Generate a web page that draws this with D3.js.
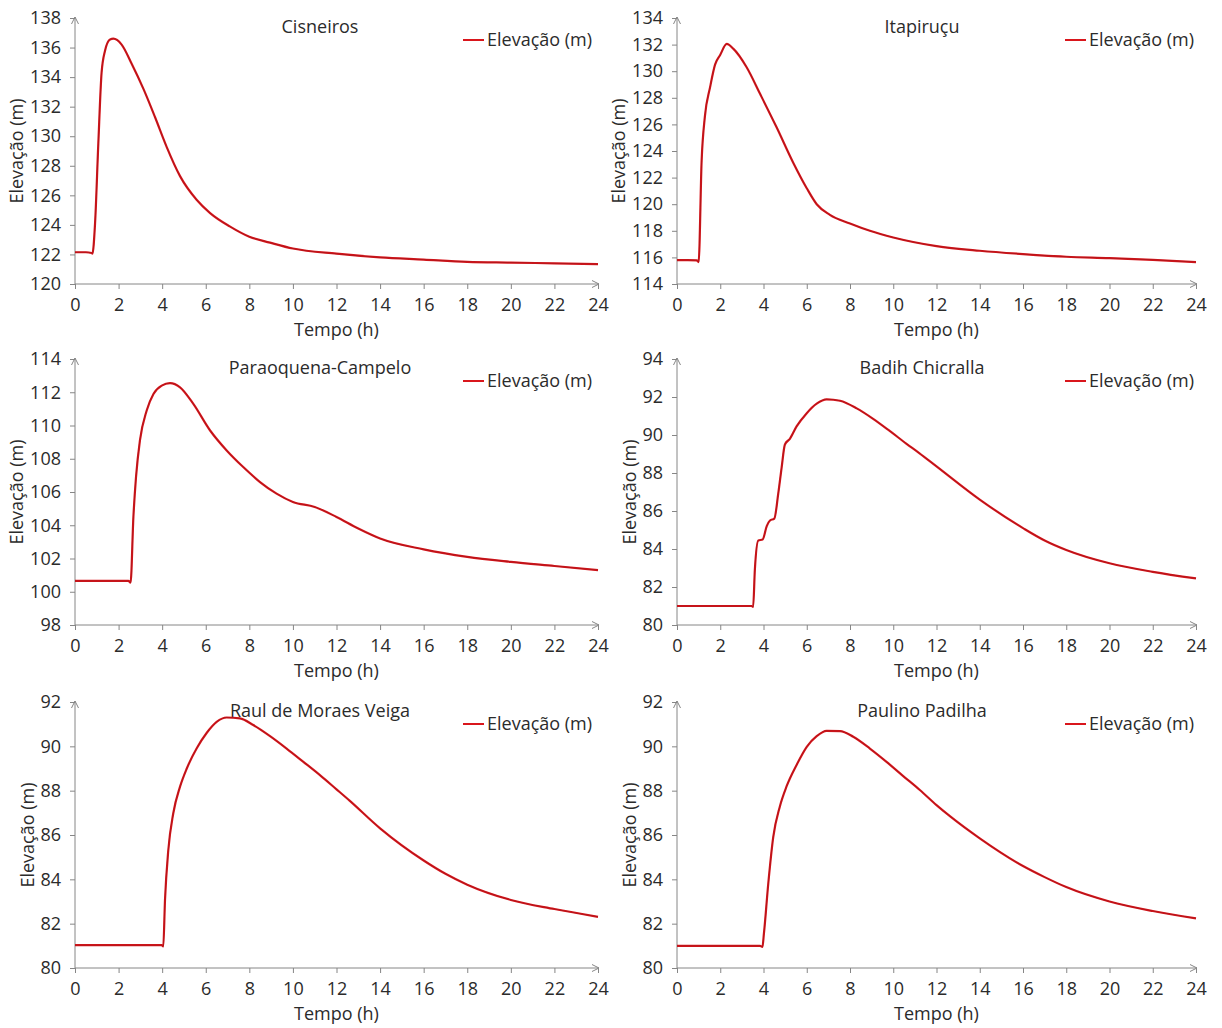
<!DOCTYPE html>
<html>
<head>
<meta charset="utf-8">
<script src="https://cdn.jsdelivr.net/npm/d3@7"></script>
<style>
  html, body { margin: 0; padding: 0; background: #fff; }
  svg text { font-family: "Open Sans", "Noto Sans", sans-serif; }
</style>
</head>
<body>
<svg id="chart" width="1222" height="1028"></svg>
<script>
// Elevation hydrographs (elevação vs. tempo) for six stations, 0–24 h.

const stationNames = [
  "Cisneiros", "Itapiruçu",
  "Paraoquena-Campelo", "Badih Chicralla",
  "Raul de Moraes Veiga", "Paulino Padilha"
];

const yDomains = [[120, 138], [114, 134], [98, 114], [80, 94], [80, 92], [80, 92]];
const xTicks = d3.range(0, 25, 2);

// time (h) and elevation (m) samples for each station
const cisneirosT = [0, 0.5, 0.76, 0.8, 0.92, 1.07, 1.22, 1.38, 1.61, 1.76, 2.14, 2.6, 3.14, 3.67, 4.2, 4.82, 5.58, 6.2, 7.1, 8.0, 8.95, 10, 12, 14, 16, 18, 20, 22, 24];
const cisneirosZ = [122.15, 122.15, 122.1, 122.05, 124.1, 129.5, 134.3, 135.8, 136.55, 136.6, 136.2, 134.9, 133.2, 131.3, 129.3, 127.3, 125.7, 124.8, 123.9, 123.2, 122.8, 122.4, 122.05, 121.8, 121.65, 121.5, 121.45, 121.4, 121.35];

const itapirucuT = [0, 0.5, 0.91, 1.0, 1.14, 1.29, 1.53, 1.76, 1.99, 2.3, 2.6, 3.22, 3.84, 4.6, 5.38, 6.0, 6.46, 7.07, 8.0, 8.92, 10, 12, 14, 16, 18, 20, 22, 24];
const itapirucuZ = [115.8, 115.8, 115.78, 115.65, 123.3, 126.6, 128.8, 130.5, 131.2, 132.05, 131.7, 130.3, 128.3, 125.8, 123.1, 121.2, 120.0, 119.2, 118.55, 118.0, 117.5, 116.85, 116.5, 116.25, 116.05, 115.95, 115.82, 115.65];

const paraoquenaT = [0, 1, 2.45, 2.55, 2.68, 2.8, 2.98, 3.29, 3.6, 3.98, 4.36, 4.82, 5.43, 6.2, 6.96, 7.72, 8.49, 9.25, 10.0, 11, 12, 13, 14, 16, 18, 20, 22, 24];
const paraoquenaZ = [100.65, 100.65, 100.65, 100.55, 104.5, 106.9, 109.1, 110.9, 111.9, 112.4, 112.55, 112.3, 111.3, 109.7, 108.5, 107.5, 106.6, 105.9, 105.4, 105.1, 104.5, 103.8, 103.2, 102.55, 102.1, 101.8, 101.55, 101.3];

const badihT = [0, 2, 3.45, 3.52, 3.6, 3.76, 3.96, 4.15, 4.3, 4.5, 4.68, 4.84, 4.99, 5.22, 5.53, 6.0, 6.46, 6.92, 7.54, 8.31, 9.07, 9.85, 10.6, 11.2, 12, 14, 16, 17, 18, 20, 22, 24];
const badihZ = [81.0, 81.0, 81.0, 80.95, 82.9, 84.45, 84.5, 85.2, 85.5, 85.6, 86.9, 88.3, 89.5, 89.8, 90.45, 91.15, 91.65, 91.88, 91.8, 91.4, 90.85, 90.2, 89.55, 89.05, 88.35, 86.6, 85.1, 84.45, 83.95, 83.25, 82.8, 82.45];

const raulT = [0, 2, 3.98, 4.05, 4.13, 4.28, 4.51, 4.82, 5.13, 5.58, 6.04, 6.5, 6.96, 7.57, 8.18, 8.95, 9.71, 10.48, 11.24, 12.0, 12.6, 14, 16, 17, 18, 20, 22, 24];
const raulZ = [81.03, 81.03, 81.03, 80.97, 83.07, 85.3, 86.98, 88.18, 89.0, 89.9, 90.6, 91.1, 91.3, 91.26, 90.96, 90.46, 89.9, 89.3, 88.7, 88.06, 87.55, 86.3, 84.85, 84.25, 83.76, 83.07, 82.66, 82.31];

const paulinoT = [0, 2, 3.84, 3.95, 4.02, 4.22, 4.45, 4.76, 5.07, 5.53, 6.0, 6.46, 6.92, 7.54, 8.15, 8.92, 9.69, 10.46, 11.23, 12.0, 12.62, 14, 16, 17, 18, 20, 22, 24];
const paulinoZ = [81.0, 81.0, 81.0, 80.95, 81.56, 83.8, 85.9, 87.3, 88.2, 89.16, 89.98, 90.46, 90.7, 90.69, 90.43, 89.9, 89.3, 88.66, 88.03, 87.35, 86.85, 85.85, 84.6, 84.1, 83.65, 83.0, 82.57, 82.24];

const seriesT = [cisneirosT, itapirucuT, paraoquenaT, badihT, raulT, paulinoT];
const seriesZ = [cisneirosZ, itapirucuZ, paraoquenaZ, badihZ, raulZ, paulinoZ];

const legendLabel = "Elevação (m)";
const xTitle = "Tempo (h)";
const yTitle = "Elevação (m)";

// grid geometry
const colLeft = [75, 677];
const colRight = [598, 1196];
const rowTop = [18, 359, 702];
const rowBottom = [284, 625, 968];

const FONT = 18;
const AXIS = "#868686";
const TEXT = "#2b2b2b";
const LINE = "#d9161c";

const svg = d3.select("#chart");

function arrowHead(g, x, y, dir) {
  // open chevron arrowhead at the end of an axis line
  const L = 7, W = 3.5;
  let pts;
  if (dir === "up") pts = [[x - W, y + L], [x, y], [x + W, y + L]];
  else pts = [[x - L, y - W], [x, y], [x - L, y + W]];
  g.append("polyline")
    .attr("points", pts.map(p => p.join(",")).join(" "))
    .attr("fill", "none").attr("stroke", AXIS).attr("stroke-width", 1);
}

stationNames.forEach((name, i) => {
  const col = i % 2, row = Math.floor(i / 2);
  const left = colLeft[col], right = colRight[col];
  const top = rowTop[row], bottom = rowBottom[row];

  const x = d3.scaleLinear().domain([0, 24]).range([left, right]);
  const y = d3.scaleLinear().domain(yDomains[i]).range([bottom, top]);
  const yTicks = d3.range(yDomains[i][0], yDomains[i][1] + 0.001, 2);

  const g = svg.append("g");

  // y axis
  const gy = g.append("g")
    .attr("transform", `translate(${left},0)`)
    .call(d3.axisLeft(y).tickValues(yTicks).tickSize(5).tickSizeOuter(0).tickPadding(9));
  // x axis
  const gx = g.append("g")
    .attr("transform", `translate(0,${bottom})`)
    .call(d3.axisBottom(x).tickValues(xTicks).tickSize(5).tickSizeOuter(0).tickPadding(9));

  [gx, gy].forEach(a => {
    a.select(".domain").remove();
    a.selectAll(".tick line").attr("stroke", AXIS);
    a.selectAll(".tick text").attr("fill", TEXT).style("font-size", FONT + "px");
  });

  g.append("line").attr("x1", left).attr("x2", left).attr("y1", bottom).attr("y2", top - 1)
    .attr("stroke", AXIS).attr("stroke-width", 1);
  g.append("line").attr("x1", left).attr("x2", right + 1).attr("y1", bottom).attr("y2", bottom)
    .attr("stroke", AXIS).attr("stroke-width", 1);
  arrowHead(g, left, top - 1, "up");
  arrowHead(g, right + 1, bottom, "right");

  // axis titles
  g.append("text")
    .attr("x", (left + right) / 2).attr("y", bottom + 52)
    .attr("text-anchor", "middle").attr("fill", TEXT).style("font-size", FONT + "px")
    .text(xTitle);

  const bb = gy.node().getBBox();
  const ty = (top + bottom) / 2;
  const tx = left + bb.x - 13;
  g.append("text")
    .attr("transform", `translate(${tx},${ty}) rotate(-90)`)
    .attr("text-anchor", "middle").attr("dy", "0.35em")
    .attr("fill", TEXT).style("font-size", FONT + "px")
    .text(yTitle);

  // station name
  g.append("text")
    .attr("x", left + 245).attr("y", top + 15)
    .attr("text-anchor", "middle").attr("fill", TEXT).style("font-size", FONT + "px")
    .text(name);

  // series line
  const data = seriesT[i].map((t, k) => [t, seriesZ[i][k]]);
  const line = d3.line().x(d => x(d[0])).y(d => y(d[1])).curve(d3.curveMonotoneX);
  g.append("path").datum(data).attr("d", line)
    .attr("fill", "none").attr("stroke", LINE).attr("stroke-width", 2.2)
    .attr("stroke-linejoin", "round");
  g.append("path").datum(data).attr("d", line)
    .attr("fill", "none").attr("stroke", "#8a1218").attr("stroke-width", 0.8)
    .attr("stroke-opacity", 0.6).attr("stroke-linejoin", "round");

  // legend
  const lg = g.append("g");
  lg.append("line").attr("x1", left + 388).attr("x2", left + 409)
    .attr("y1", top + 22).attr("y2", top + 22)
    .attr("stroke", LINE).attr("stroke-width", 2);
  lg.append("text").attr("x", left + 412).attr("y", top + 28)
    .attr("fill", TEXT).style("font-size", FONT + "px")
    .text(legendLabel);
});
</script>
</body>
</html>
